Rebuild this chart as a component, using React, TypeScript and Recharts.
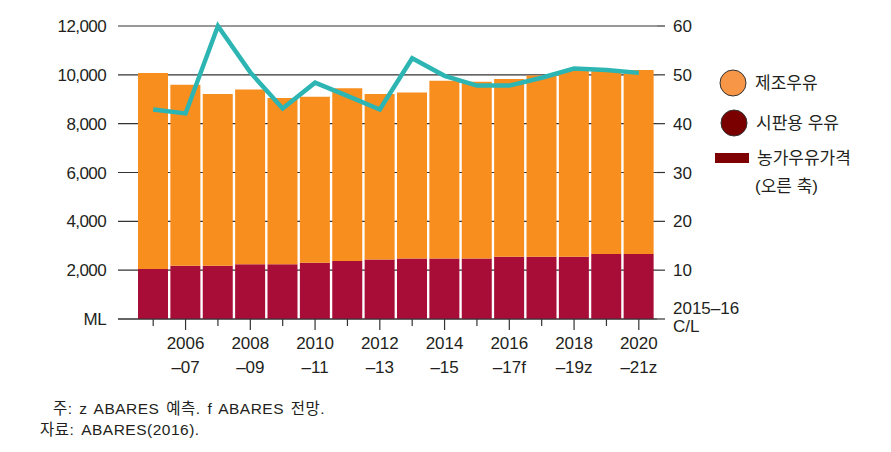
import { Bar, CartesianGrid, ComposedChart, Line, XAxis, YAxis } from "recharts";

const years = [
  "2005–06", "2006–07", "2007–08", "2008–09", "2009–10", "2010–11", "2011–12", "2012–13",
  "2013–14", "2014–15", "2015–16", "2016–17f", "2017–18z", "2018–19z", "2019–20z", "2020–21z",
];
// 시판용 우유 (ML)
const fluidMilk = [2050, 2180, 2180, 2240, 2240, 2300, 2380, 2440, 2480, 2480, 2480, 2550, 2550, 2550, 2660, 2660];
// 제조우유 (ML)
const mfgMilk = [8030, 7410, 7030, 7160, 6810, 6800, 7075, 6770, 6800, 7280, 7240, 7280, 7420, 7610, 7540, 7540];
// 농가우유가격 (C/L, 오른 축)
const farmPrice = [42.9, 42.1, 60, 50.5, 43.1, 48.4, 45.7, 42.9, 53.4, 49.8, 47.8, 47.8, 49.4, 51.3, 51.0, 50.4];

const leftTicks = [0, 2000, 4000, 6000, 8000, 10000, 12000];
const rightTicks = [0, 10, 20, 30, 40, 50, 60];

const data = years.map((year, i) => ({
  year,
  fluid: fluidMilk[i],
  mfg: mfgMilk[i],
  price: farmPrice[i],
}));

const TEXT = "#231f20";
const FONT = "'Liberation Sans', Arial, sans-serif";
const KFONT = "'Liberation Sans', 'Noto Sans CJK KR', sans-serif";

function XTick({ x, y, index, payload }: any) {
  const labelled = index % 2 === 1;
  const [top, bottom] = String(payload.value).split("–");
  return (
    <g>
      <line x1={x} x2={x} y1={y} y2={y + (labelled ? 11 : 7)} stroke="#333" strokeWidth={1.2} />
      {labelled && (
        <text x={x} y={y} textAnchor="middle" fontFamily={FONT} fontSize={17} fill={TEXT}>
          <tspan x={x} dy={30}>{top}</tspan>
          <tspan x={x} dy={24}>{"–" + bottom}</tspan>
        </text>
      )}
    </g>
  );
}

function LeftTick({ x, y, payload }: any) {
  const v = payload.value;
  return (
    <text x={x} y={y + 6} textAnchor="end" fontFamily={FONT} fontSize={17} letterSpacing={-0.6} fill={TEXT}>
      {v === 0 ? "ML" : v.toLocaleString("en-US")}
    </text>
  );
}

function RightTick({ x, y, payload }: any) {
  const v = payload.value;
  if (v === 0) {
    return (
      <g>
        <text x={x} y={y - 5} textAnchor="start" fontFamily={FONT} fontSize={17} fill={TEXT}>2015–16</text>
        <text x={x} y={y + 13} textAnchor="start" fontFamily={FONT} fontSize={17} fill={TEXT}>C/L</text>
      </g>
    );
  }
  return (
    <text x={x} y={y + 6} textAnchor="start" fontFamily={FONT} fontSize={17} fill={TEXT}>
      {v}
    </text>
  );
}

export default function App() {
  return (
    <div style={{ position: "absolute", left: 0, top: 0, width: 891, height: 452, background: "#fff" }}>
      <ComposedChart
        width={891}
        height={452}
        data={data}
        margin={{ top: 26, right: 0, bottom: 0, left: 0 }}
        barCategoryGap={1}
      >
        <CartesianGrid yAxisId="left" vertical={false} stroke="#333" strokeWidth={1.2} />
        <XAxis
          dataKey="year"
          interval={0}
          height={133}
          padding={{ left: 19, right: 2 }}
          tickLine={false}
          tickSize={0}
          tickMargin={0}
          axisLine={{ stroke: "#333", strokeWidth: 1.2 }}
          tick={<XTick />}
        />
        <YAxis
          yAxisId="left"
          width={118}
          domain={[0, 12000]}
          ticks={leftTicks}
          axisLine={false}
          tickLine={false}
          tickMargin={6}
          tick={<LeftTick />}
        />
        <YAxis
          yAxisId="right"
          orientation="right"
          width={234}
          domain={[0, 60]}
          ticks={rightTicks}
          axisLine={false}
          tickLine={{ stroke: "#333", strokeWidth: 1.2 }}
          tickSize={8}
          tickMargin={8}
          tick={<RightTick />}
        />
        <Bar yAxisId="left" dataKey="fluid" stackId="a" fill="#a80d38" isAnimationActive={false} />
        <Bar yAxisId="left" dataKey="mfg" stackId="a" fill="#f78e1e" isAnimationActive={false} />
        <Line
          yAxisId="right"
          dataKey="price"
          type="linear"
          stroke="#2cb5b3"
          strokeWidth={4.5}
          dot={false}
          isAnimationActive={false}
        />
      </ComposedChart>

      <svg width={891} height={452} style={{ position: "absolute", left: 0, top: 0, pointerEvents: "none" }}>
        <circle cx={733} cy={83} r={13} fill="#f79646" stroke="#333" strokeWidth={1} />
        <text x={755} y={89} fontFamily={KFONT} fontSize={17} fill={TEXT}>제조우유</text>
        <circle cx={734} cy={123} r={13} fill="#7a0000" stroke="#333" strokeWidth={1} />
        <text x={756} y={129} fontFamily={KFONT} fontSize={17} fill={TEXT}>시판용 우유</text>
        <rect x={715} y={153} width={34} height={10} fill="#7f0000" />
        <text x={757} y={164} fontFamily={KFONT} fontSize={17} fill={TEXT}>농가우유가격</text>
        <text x={755} y={192} fontFamily={KFONT} fontSize={17} fill={TEXT}>(오른 축)</text>

        <text x={53} y={414} fontFamily={KFONT} fontSize={15.5} letterSpacing={0.5} wordSpacing={2} fill={TEXT}>주: z ABARES 예측. f ABARES 전망.</text>
        <text x={40} y={435} fontFamily={KFONT} fontSize={15.5} letterSpacing={0.5} wordSpacing={2} fill={TEXT}>자료: ABARES(2016).</text>
      </svg>
    </div>
  );
}
